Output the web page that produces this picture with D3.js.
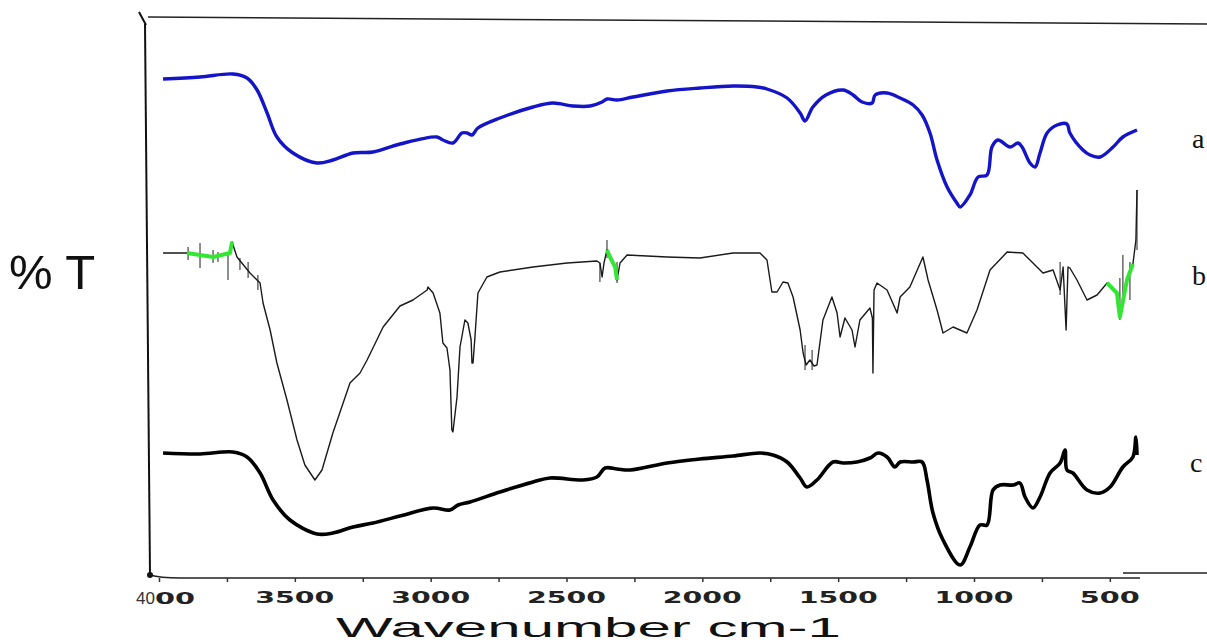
<!DOCTYPE html>
<html>
<head>
<meta charset="utf-8">
<script src="https://cdn.jsdelivr.net/npm/d3@7"></script>
<style>
html,body{margin:0;padding:0;background:#fff;}
svg{display:block;}
</style>
</head>
<body>
<svg id="chart" width="1207" height="644"></svg>
<script>
// ---------- DATA ----------
const majorTicks = [4000, 3500, 3000, 2500, 2000, 1500, 1000, 500];
const minorTicks = [3750, 3250, 2750, 2250, 1750, 1250, 750];
const tickLabels = ["4000", "3500", "3000", "2500", "2000", "1500", "1000", "500"];
const seriesNames = ["a", "b", "c"];
const xTitle = "Wavenumber cm-1";
const yTitle = "% T";

// series a : [wavenumber, %T]
const seriesA = [
 [3985,99.8],[3849,100.2],[3728,100.8],[3676,100],[3639,97.6],[3602,93],[3566,88.2],[3507,85],
 [3418,83],[3360,83.6],[3286,85],[3212,85.2],[3113,86.8],[2977,88.2],[2955,87.6],[2918,87],
 [2885,89],[2866,89],[2848,88.6],[2826,90],[2745,92],[2623,94.2],[2550,95],[2476,94.4],
 [2413,94.4],[2369,95.2],[2351,95.8],[2314,95.6],[2255,96.2],[2130,97.4],[2009,98],[1887,98.4],
 [1799,98.2],[1762,97.8],[1688,96],[1640,93],[1622,91.4],[1593,94.2],[1545,96.6],[1482,97.6],
 [1445,96.6],[1412,95.2],[1375,95],[1364,96.6],[1320,97],[1272,96],[1224,94.6],[1191,92.6],
 [1162,89],[1136,83.6],[1099,78.2],[1063,75],[1051,74.2],[1015,76.6],[985,80.2],[952,80.6],
 [934,86.2],[912,87.6],[867,86.2],[838,87],[823,86.2],[794,83],[775,82.2],[757,85],[731,89],
 [694,90.6],[658,90.8],[647,89],[599,85.6],[573,84.6],[536,84.2],[488,86.2],[452,88.2],[400,89.6]
];

// series b : [wavenumber, %T]
const seriesB = [
 [3985,65],[3897,65],[3801,64.2],[3739,65],[3731,67.2],[3713,64.2],[3665,61],[3628,59],
 [3617,55],[3591,49.6],[3566,43],[3529,35.6],[3492,27.6],[3463,22.6],[3426,19.6],[3400,21.6],
 [3360,29],[3297,39],[3260,41],[3234,43.6],[3175,50.2],[3113,54.4],[3065,55.6],[3013,57.6],
 [3010,58.2],[2991,57],[2966,53],[2955,47],[2940,46],[2929,41.6],[2922,29.6],[2918,29.2],
 [2903,36.2],[2892,46.2],[2874,51.6],[2863,51],[2851,47.6],[2848,43],[2844,43],[2837,48.2],
 [2826,57],[2793,60.2],[2745,61.2],[2623,62.2],[2498,63],[2388,63.4],[2377,63],[2369,60.2],
 [2362,63],[2351,65.6],[2340,64.2],[2321,62.2],[2314,59.6],[2303,63],[2277,64.6],[2130,64.2],
 [2009,64],[1887,65],[1788,65],[1762,63.6],[1744,57.2],[1725,57.2],[1703,59.2],[1685,59],
 [1666,56.2],[1640,49.6],[1629,45],[1618,42.6],[1604,43.6],[1589,42.4],[1578,42.6],[1556,51.6],
 [1523,56.2],[1504,53],[1493,48.2],[1475,52],[1449,49.6],[1438,46.2],[1420,51.6],[1383,54],
 [1374,52],[1372,41],[1368,57.6],[1357,59],[1320,57.6],[1283,53],[1272,56.2],[1236,58.2],
 [1188,64.2],[1169,59.6],[1136,53.6],[1114,49],[1077,50.2],[1026,49],[989,53.6],[941,61.6],
 [878,65.2],[820,65],[783,63],[746,61],[709,61.6],[683,57.6],[672,62.2],[661,49.6],[654,62.2],
 [647,62],[621,59.6],[584,55.6],[547,56.6],[510,59],[474,57],[463,52.2],[437,59.6],[415,62.8],
 [404,67.6],[400,77.6]
];

// series b noise spikes : [wavenumber, %T top, %T bottom]
const seriesBNoise = [
 [3893,66.2,63.6],[3849,67,62],[3801,65.6,63],[3783,65.2,63.2],[3746,65,59.6],[3702,64,61.6],
 [3672,63.2,60],[3636,60.6,57.6],[2377,63,59.2],[2351,67.6,64],[2314,63.2,59],[1622,46.6,41.6],
 [1596,45.6,41.6],[683,63.2,56.6],[463,60,51.6],[452,64.6,54.6],[426,63.2,55.6],[400,77.6,65.6]
];

// series b highlighted (green) wavenumber ranges : [from, to]
const seriesBGreen = [[3975,3715],[2352,2305],[880,830],[590,555],[510,410]];

// series c : [wavenumber, %T]
const seriesC = [
 [3985,25],[3849,24.8],[3728,25.2],[3676,24.2],[3628,21],[3580,15.6],[3518,11.6],[3418,8.8],
 [3360,9],[3286,10.2],[3212,11],[3113,12.4],[2991,14],[2929,13.6],[2899,14.6],[2855,15.2],
 [2745,17.2],[2623,19.2],[2561,20],[2439,19.6],[2388,20.2],[2358,22],[2314,21.8],[2266,21.6],
 [2130,23],[2009,23.8],[1887,24.4],[1788,25],[1740,24.6],[1688,23.2],[1640,20],[1615,18.2],
 [1578,19.6],[1519,23.2],[1482,23],[1431,23.2],[1383,24],[1353,25],[1320,24.2],[1291,22.2],
 [1272,23.2],[1224,23.2],[1191,23.2],[1173,19.6],[1151,13],[1114,7.6],[1051,2.6],[1015,6.2],
 [978,10.6],[952,10.6],[930,17.6],[904,18.6],[856,18.6],[831,19],[812,16.2],[783,14],[757,16.2],
 [720,21],[683,23],[665,25.6],[658,21.6],[636,21],[584,17.6],[536,17],[499,18.2],[452,22.2],
 [415,24.2],[404,28.2],[400,24.6]
];

// ---------- DRAW ----------
const svg = d3.select("#chart");
const x = d3.scaleLinear().domain([4000, 400]).range([159, 1137]);
const y = d3.scaleLinear().domain([0, 112]).range([578, 18]);
const line = d3.line().x(d => x(d[0])).y(d => y(d[1])).curve(d3.curveLinear);
const smooth = d3.line().x(d => x(d[0])).y(d => y(d[1])).curve(d3.curveCatmullRom.alpha(0.5));

// frame
svg.append("line").attr("x1", 145).attr("y1", 24).attr("x2", 150).attr("y2", 575)
  .attr("stroke", "#111").attr("stroke-width", 2);
svg.append("line").attr("x1", 139).attr("y1", 12).attr("x2", 146).attr("y2", 25)
  .attr("stroke", "#111").attr("stroke-width", 2);
svg.append("line").attr("x1", 148).attr("y1", 17).attr("x2", 1207).attr("y2", 24)
  .attr("stroke", "#222").attr("stroke-width", 1.5);
svg.append("path").attr("d", "M150,575 Q160,578 180,578 L1140,578")
  .attr("fill", "none").attr("stroke", "#222").attr("stroke-width", 1.5);
svg.append("circle").attr("cx", 150).attr("cy", 575).attr("r", 3).attr("fill", "#111");
svg.append("line").attr("x1", 1123).attr("y1", 573).attr("x2", 1207).attr("y2", 573)
  .attr("stroke", "#222").attr("stroke-width", 1.5);

// ticks
const axis = svg.append("g").attr("transform", "translate(0,578)");
axis.call(d3.axisBottom(x).tickValues(majorTicks.concat(minorTicks)).tickSize(4).tickSizeOuter(0).tickFormat(""));
axis.select(".domain").remove();
axis.selectAll(".tick line").attr("stroke", "#333").attr("stroke-width", 1.5);

// tick labels
majorTicks.forEach((t, i) => {
  if (t === 4000) {
    const tx = svg.append("text").attr("x", x(t) - 23).attr("y", 604)
      .attr("font-family", "Liberation Sans, Arial, sans-serif").attr("fill", "#333");
    tx.append("tspan").attr("font-size", 17).text(tickLabels[i].slice(0, 2));
    tx.append("tspan").attr("font-size", 15).attr("font-weight", "bold")
      .attr("font-family", "DejaVu Sans, sans-serif").attr("textLength", 40)
      .attr("lengthAdjust", "spacingAndGlyphs").attr("fill", "#222").text(tickLabels[i].slice(2));
  } else {
    const len = tickLabels[i].length === 4 ? 79 : 60;
    svg.append("text").attr("x", x(t) - len / 2).attr("y", 603)
      .attr("font-family", "DejaVu Sans, sans-serif").attr("font-weight", "bold")
      .attr("font-size", 15).attr("fill", "#222")
      .attr("textLength", len).attr("lengthAdjust", "spacingAndGlyphs")
      .text(tickLabels[i]);
  }
});

// axis titles
svg.append("text").attr("x", 336).attr("y", 637)
  .attr("font-family", "Liberation Sans, Arial, sans-serif").attr("font-size", 28)
  .attr("fill", "#111").attr("textLength", 505).attr("lengthAdjust", "spacingAndGlyphs")
  .text(xTitle);
svg.append("text").attr("x", 9).attr("y", 289)
  .attr("font-family", "Liberation Sans, Arial, sans-serif").attr("font-size", 49)
  .attr("fill", "#111").text(yTitle);

// series
svg.append("path").datum(seriesA).attr("d", smooth).attr("fill", "none")
  .attr("stroke", "#1414c8").attr("stroke-width", 3.4).attr("stroke-linejoin", "round");

svg.append("g").selectAll("line").data(seriesBNoise).join("line")
  .attr("x1", d => x(d[0])).attr("x2", d => x(d[0]))
  .attr("y1", d => y(d[1])).attr("y2", d => y(d[2]))
  .attr("stroke", "#444").attr("stroke-width", 1.2);
svg.append("path").datum(seriesB).attr("d", line).attr("fill", "none")
  .attr("stroke", "#1a1a1a").attr("stroke-width", 1.4).attr("stroke-linejoin", "round");
seriesBGreen.forEach(r => {
  const seg = seriesB.filter(d => d[0] <= r[0] && d[0] >= r[1]);
  if (seg.length > 1) {
    svg.append("path").datum(seg).attr("d", line).attr("fill", "none")
      .attr("stroke", "#33e633").attr("stroke-width", 4).attr("stroke-linejoin", "round");
  }
});

svg.append("path").datum(seriesC).attr("d", smooth).attr("fill", "none")
  .attr("stroke", "#000").attr("stroke-width", 3.6).attr("stroke-linejoin", "round");

// series labels
const labelPos = [[1192, 148], [1192, 285], [1190, 472]];
seriesNames.forEach((n, i) => {
  svg.append("text").attr("x", labelPos[i][0]).attr("y", labelPos[i][1])
    .attr("font-family", "Liberation Serif, Times New Roman, serif").attr("font-size", 28)
    .attr("fill", "#111").text(n);
});
</script>
</body>
</html>
